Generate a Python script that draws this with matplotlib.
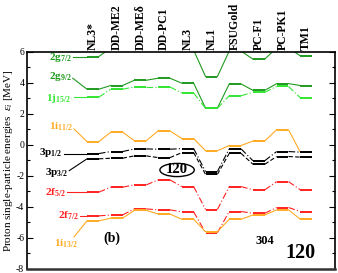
"""Proton single-particle levels of 304-120 for several RMF parametrisations."""

import matplotlib
matplotlib.use("Agg")
import matplotlib.pyplot as plt
from matplotlib.patches import Ellipse

plt.rcParams["font.family"] = ["Liberation Serif", "DejaVu Serif"]
plt.rcParams["mathtext.fontset"] = "custom"
plt.rcParams["mathtext.rm"] = "Liberation Serif"
plt.rcParams["mathtext.it"] = "Liberation Serif:italic"
plt.rcParams["mathtext.bf"] = "Liberation Serif:bold"
plt.rcParams["axes.unicode_minus"] = False

models = ["NL3*", "DD-ME2", "DD-MEδ", "DD-PC1", "NL3", "NL1",
          "FSUGold", "PC-F1", "PC-PK1", "TM1"]

# single-particle energies [MeV], one list per level
e_2g7 = [5.70, 6.25, 6.50, 6.50, 6.10, 4.41, 6.05, 5.53, 6.26, 5.74]
e_2g9 = [3.59, 3.83, 4.17, 4.30, 3.98, 2.37, 3.93, 3.52, 3.95, 3.83]
e_1j15 = [3.08, 3.59, 3.74, 3.74, 3.34, 2.36, 3.17, 3.39, 3.77, 3.04]
e_1i11 = [0.21, 0.82, 0.27, 0.90, 0.41, -0.38, -0.04, 0.25, 0.98, -0.47]
e_3p1 = [-0.56, -0.43, -0.26, -0.28, -0.24, -1.72, -0.26, -1.02, -0.43, -0.47]
e_3p3 = [-0.90, -0.86, -0.71, -0.82, -0.50, -1.90, -0.55, -1.25, -0.75, -0.79]
e_2f5 = [-3.05, -2.73, -2.58, -2.26, -2.69, -4.17, -2.69, -2.90, -2.37, -2.90]
e_2f7 = [-4.58, -4.52, -4.13, -4.19, -4.32, -5.66, -4.30, -4.41, -4.04, -4.30]
e_1i13 = [-4.90, -4.73, -4.22, -4.46, -4.80, -5.60, -4.80, -4.52, -4.19, -4.80]

DKGREEN = "#1f9a1f"
LTGREEN = "#33e633"
ORANGE = "#ffaa22"
RED = "#ff2020"

# (values, colour, connector style, label, label xy, connector start xy)
levels = [
    (e_2g7, DKGREEN, "-", r"$\mathbf{2g_{7/2}}$", (0.10, 5.62), (0.15, 5.70)),
    (e_2g9, DKGREEN, "-", r"$\mathbf{2g_{9/2}}$", (0.10, 4.40), (0.15, 4.30)),
    (e_1j15, LTGREEN, (0, (6, 2, 1, 2)), r"$\mathbf{1j_{15/2}}$", (0.05, 3.00), (0.18, 3.08)),
    (e_1i11, ORANGE, "-", r"$\mathbf{1i_{11/2}}$", (0.15, 1.15), (0.20, 1.03)),
    (e_3p1, "black", (0, (6, 2, 1, 2)), r"$\mathbf{3p_{1/2}}$", (-0.30, -0.52), (-0.22, -0.56)),
    (e_3p3, "black", (0, (4, 2)), r"$\mathbf{3p_{3/2}}$", (-0.05, -1.80), (0.00, -1.66)),
    (e_2f5, RED, (0, (6, 2, 1, 2)), r"$\mathbf{2f_{5/2}}$", (-0.15, -3.10), (-0.10, -3.05)),
    (e_2f7, RED, (0, (6, 2, 1, 2)), r"$\mathbf{2f_{7/2}}$", (0.40, -4.55), (0.45, -4.58)),
    (e_1i13, ORANGE, "-", r"$\mathbf{1i_{13/2}}$", (0.40, -6.35), (0.20, -5.94)),
]

HW = 0.25  # half width of a level bar

fig = plt.figure(figsize=(3.38, 2.73), dpi=100)
ax = fig.add_axes([0.080, 0.015, 0.911, 0.795])

xs = list(range(1, len(models) + 1))
for vals, color, ls, label, txy, cxy in levels:
    for x, v in zip(xs, vals):
        ax.plot([x - HW, x + HW], [v, v], color=color, lw=1.4,
                solid_capstyle="butt")
    for k in range(len(xs) - 1):
        ax.plot([xs[k] + HW, xs[k + 1] - HW], [vals[k], vals[k + 1]],
                color=color, lw=0.8, ls=ls)
    # line from the level name to the first bar
    ax.plot([cxy[0], xs[0] - HW], [cxy[1], vals[0]], color=color, lw=0.8)
    ax.text(txy[0], txy[1], label, color=color, fontsize=8,
            ha="right", va="center")

# model names above the frame
for x, name in zip(xs, models):
    ax.text(x, 6.12, name, rotation=90, ha="center", va="bottom",
            fontsize=8.5, fontweight="bold")

ax.add_patch(Ellipse((4.55, -1.62), 1.45, 0.85, fill=False, lw=1.0))
ax.text(4.55, -1.62, "120", ha="center", va="center",
        fontsize=10.5, fontweight="bold")
ax.text(1.8, -6.0, "(b)", ha="center", va="center",
        fontsize=10, fontweight="bold")
ax.text(8.25, -6.2, "304", ha="center", va="center",
        fontsize=9, fontweight="bold")
ax.text(9.75, -6.95, "120", ha="center", va="center",
        fontsize=14.5, fontweight="bold")

ax.set_xlim(-1.78, 11.21)
ax.set_ylim(-8, 6)
ax.set_xticks([])
ax.set_yticks(range(-8, 7, 2))
ax.set_yticks(range(-7, 6, 2), minor=True)
ax.tick_params(axis="y", which="both", direction="in", right=True,
               labelsize=7, pad=2)
ax.tick_params(axis="y", which="major", length=4, width=0.8)
ax.tick_params(axis="y", which="minor", length=2.5, width=0.8)
for side in ax.spines.values():
    side.set_linewidth(1.2)
ax.spines["bottom"].set_linewidth(1.8)
ax.spines["bottom"].set_color("#333333")

ax.set_ylabel(r"Proton single-particle energies  $\epsilon_i$ [MeV]",
              fontsize=8, labelpad=1)

fig.savefig("out.png", dpi=100)
